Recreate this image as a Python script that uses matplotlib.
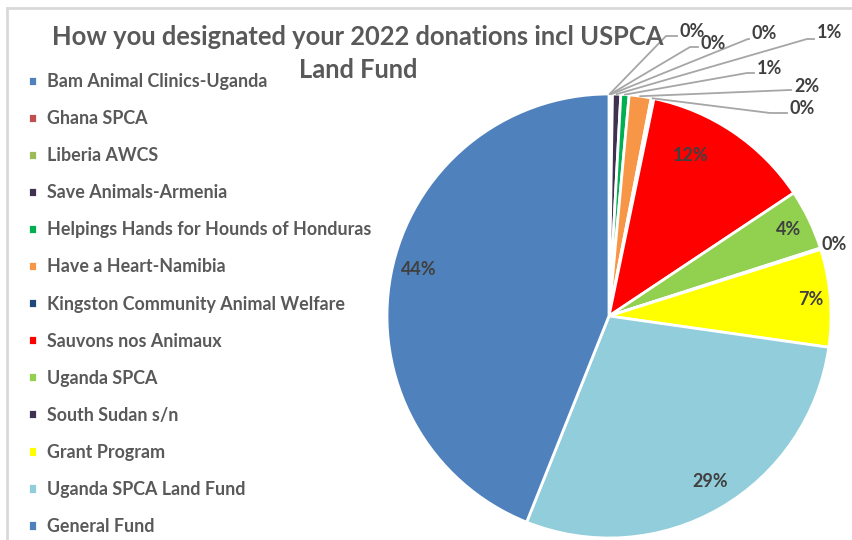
import numpy as np
import matplotlib
matplotlib.use("Agg")
import matplotlib.pyplot as plt
from matplotlib.lines import Line2D

plt.rcParams["font.family"] = ["Lato", "DejaVu Sans"]

W, H = 853, 540

categories = [
    "Bam Animal Clinics-Uganda", "Ghana SPCA", "Liberia AWCS",
    "Save Animals-Armenia", "Helpings Hands for Hounds of Honduras",
    "Have a Heart-Namibia", "Kingston Community Animal Welfare",
    "Sauvons nos Animaux", "Uganda SPCA", "South Sudan s/n",
    "Grant Program", "Uganda SPCA Land Fund", "General Fund",
]
shares = [0.10, 0.05, 0.10, 0.60, 0.60, 1.60, 0.20,
          12.40, 4.40, 0.10, 7.10, 28.80, 43.95]
colors = ["#4F81BD", "#C0504D", "#9BBB59", "#403152", "#00B050",
          "#F79646", "#1F497D", "#FF0000", "#92D050", "#3F3151",
          "#FFFF00", "#92CDDC", "#4F81BD"]

# label layout (pixels, y down): outside labels for the thin slices
outside = {0: (680, 31, 666, 36), 1: (701, 43, 690, 47), 2: (752, 33, 748, 39),
           3: (817, 32, 807, 39), 4: (757, 68, 747, 73), 5: (794, 86, 790, 90),
           6: (790, 108, 770, 113)}
inside_r = {7: 0.81, 8: 0.9, 10: 0.91, 11: 0.875, 12: 0.88}
inside_shift = {7: -7, 11: -1.3, 12: 2.8}   # small angular nudges (deg)

CX, CY, R = 609, H - 316, 222

fig = plt.figure(figsize=(W / 100, H / 100), dpi=100)
ax = fig.add_axes([0, 0, 1, 1])

wedges, _ = ax.pie(shares, colors=colors, startangle=90, counterclock=False,
                   center=(CX, CY), radius=R, frame=True,
                   wedgeprops=dict(edgecolor="white", linewidth=2))
ax.set_xlim(0, W)
ax.set_ylim(0, H)
ax.set_aspect("equal")
ax.axis("off")

txt = "#404040"
for i, w in enumerate(wedges):
    mid = np.deg2rad((w.theta1 + w.theta2) / 2 - inside_shift.get(i, 0))
    pct = f"{round(shares[i]):.0f}%"
    if i in inside_r:
        rr = inside_r[i] * R
        ax.text(CX + rr * np.cos(mid), CY + rr * np.sin(mid), pct,
                ha="center", va="center", fontsize=13, fontweight="bold", color=txt)
    elif i in outside:
        tx, ty, ex, ey = outside[i]
        x0, y0 = CX + R * np.cos(mid), CY + R * np.sin(mid)
        ax.plot([x0, ex, tx - 3], [y0, H - ey, H - ey], color="#A6A6A6", lw=1.3)
        ax.text(tx, H - ty, pct, ha="left", va="center",
                fontsize=13, fontweight="bold", color=txt)
    else:
        x0, y0 = CX + 1.03 * R * np.cos(mid), CY + 1.03 * R * np.sin(mid)
        ax.text(x0 - 5, y0 + 2, pct, ha="left", va="center",
                fontsize=13, fontweight="bold", color=txt)

for line, y in [("How you designated your 2022 donations incl USPCA", 37),
                ("Land Fund", 70)]:
    fig.text(358 / W, 1 - y / H, line, ha="center", va="center",
             fontsize=18.4, fontweight="bold", color="#595959")

fig.legend(wedges, categories, loc="upper left", bbox_to_anchor=(12 / W, 1 - 57 / H),
           frameon=False, handlelength=0.5, handleheight=0.5,
           handletextpad=0.55, labelspacing=1.12, labelcolor="#595959",
           prop=dict(weight="bold", size=12.9))

# chart border (light gray)
fig.add_artist(Line2D([7 / W, 1], [1 - 8 / H, 1 - 8 / H], color="#D9D9D9", lw=2,
                      transform=fig.transFigure))
fig.add_artist(Line2D([7 / W, 7 / W], [0, 1 - 8 / H], color="#D9D9D9", lw=2,
                      transform=fig.transFigure))

fig.savefig("out.png", dpi=100)
